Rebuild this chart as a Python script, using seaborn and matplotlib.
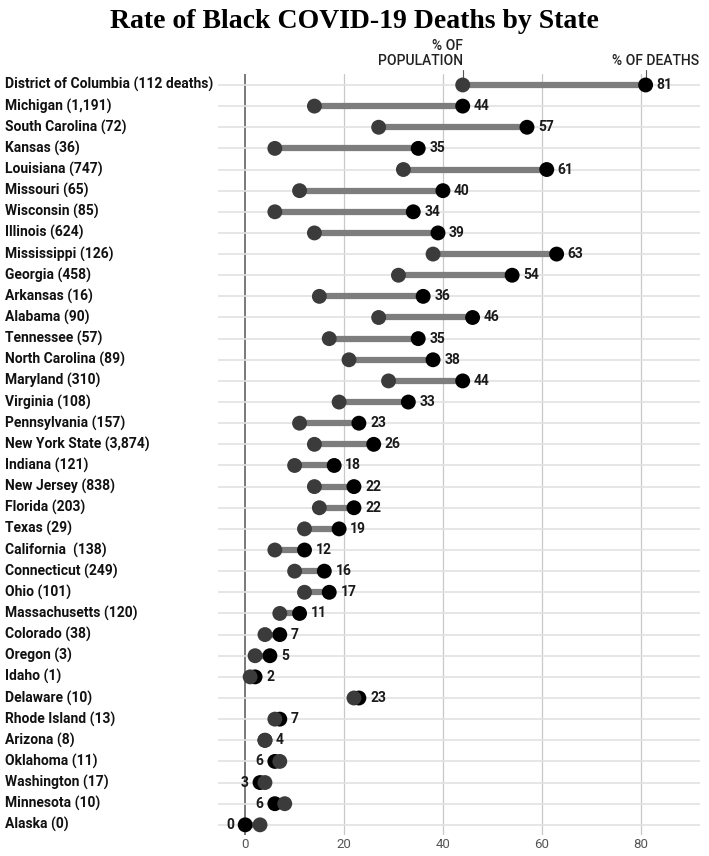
import matplotlib
matplotlib.use("Agg")
import matplotlib.pyplot as plt
import matplotlib.transforms as mtransforms
import seaborn as sns
import pandas as pd

states = ["District of Columbia (112 deaths)", "Michigan (1,191)", "South Carolina (72)", "Kansas (36)",
          "Louisiana (747)", "Missouri (65)", "Wisconsin (85)", "Illinois (624)", "Mississippi (126)",
          "Georgia (458)", "Arkansas (16)", "Alabama (90)", "Tennessee (57)", "North Carolina (89)",
          "Maryland (310)", "Virginia (108)", "Pennsylvania (157)", "New York State (3,874)", "Indiana (121)",
          "New Jersey (838)", "Florida (203)", "Texas (29)", "California  (138)", "Connecticut (249)",
          "Ohio (101)", "Massachusetts (120)", "Colorado (38)", "Oregon (3)", "Idaho (1)", "Delaware (10)",
          "Rhode Island (13)", "Arizona (8)", "Oklahoma (11)", "Washington (17)", "Minnesota (10)", "Alaska (0)"]
deaths = [81, 44, 57, 35, 61, 40, 34, 39, 63, 54, 36, 46, 35, 38, 44, 33, 23, 26, 18, 22, 22, 19, 12, 16,
          17, 11, 7, 5, 2, 23, 7, 4, 6, 3, 6, 0]
population = [44, 14, 27, 6, 32, 11, 6, 14, 38, 31, 15, 27, 17, 21, 29, 19, 11, 14, 10, 14, 15, 12, 6, 10,
              12, 7, 4, 2, 1, 22, 6, 4, 7, 4, 8, 3]
xticks = [0, 20, 40, 60, 80]

df = pd.DataFrame({"state": states, "deaths": deaths, "population": population})
df["pos"] = range(len(df))

sns.set_style("white")
plt.rcParams["font.family"] = ["Roboto", "DejaVu Sans"]

fig = plt.figure(figsize=(7.09, 8.56), dpi=100)
ax = fig.add_axes([218 / 709, 1 - 835.4 / 856, (700 - 218) / 709, (835.4 - 74.4) / 856])

for v in xticks[1:]:
    ax.axvline(v, color="#c8c8c8", lw=0.9, zorder=0)
ax.axvline(0, color="#555555", lw=1.1, zorder=0)
for p in df["pos"]:
    ax.axhline(p, color="#e2e2e2", lw=1.2, zorder=0)

ax.hlines(df["pos"], df["population"], df["deaths"], color="#7d7d7d", lw=4.5, zorder=1)
sns.scatterplot(data=df, x="deaths", y="pos", color="#000000", s=115, edgecolor="none", ax=ax, zorder=3)
sns.scatterplot(data=df, x="population", y="pos", color="#3b3b3b", s=115, edgecolor="none", ax=ax, zorder=4)

for _, r in df.iterrows():
    if r["deaths"] >= r["population"]:
        ax.annotate(str(r["deaths"]), (r["deaths"], r["pos"]), xytext=(8, 0), textcoords="offset points",
                    ha="left", va="center", fontsize=10, fontweight="bold", color="#1a1a1a")
    else:
        ax.annotate(str(r["deaths"]), (r["deaths"], r["pos"]), xytext=(-8, 0), textcoords="offset points",
                    ha="right", va="center", fontsize=10, fontweight="bold", color="#1a1a1a")

# row labels
trans = mtransforms.blended_transform_factory(fig.transFigure, ax.transData)
for _, r in df.iterrows():
    ax.text(5 / 709, r["pos"], r["state"], transform=trans, ha="left", va="center",
            fontsize=10, fontweight="bold", color="#111111", clip_on=False)

# header annotations
ax.plot([population[0], population[0]], [-0.7, -0.3], color="#555555", lw=0.8, zorder=2, clip_on=False)
ax.plot([deaths[0], deaths[0]], [-0.7, -0.3], color="#555555", lw=0.8, zorder=2, clip_on=False)
ax.text(population[0], -0.78, "% OF\nPOPULATION", ha="right", va="bottom", multialignment="right",
        fontsize=10, fontweight="medium", color="#222222", linespacing=1.1, clip_on=False)
ax.text(deaths[0] - 6.7, -0.78, "% OF DEATHS", ha="left", va="bottom",
        fontsize=10, fontweight="medium", color="#222222", clip_on=False)

ax.set_xlim(-5.5, 92)
ax.set_ylim(len(df) - 0.5, -0.5)
ax.set_xticks(xticks)
ax.set_xticklabels([str(t) for t in xticks], fontsize=9.5, color="#555555")
ax.tick_params(axis="x", length=0, pad=2)
ax.set_yticks([])
ax.set_xlabel("")
ax.set_ylabel("")
for s in ax.spines.values():
    s.set_visible(False)

fig.text(0.5, 1 - 22 / 856, "Rate of Black COVID-19 Deaths by State", ha="center", va="center",
         fontsize=20, fontweight="bold", family=["Liberation Serif"], color="#000000")

fig.savefig("out.png", dpi=100)
